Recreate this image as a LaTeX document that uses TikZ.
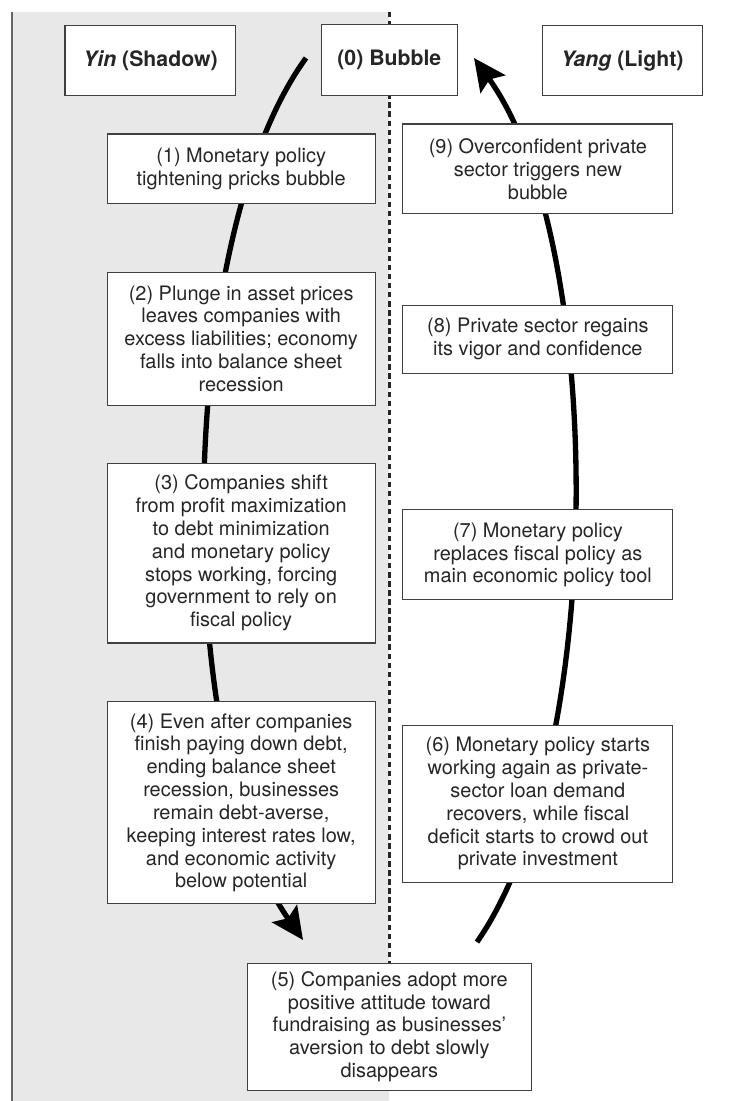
\documentclass[tikz,border=0pt]{standalone}
\usepackage{fontspec}
\setmainfont{TeX Gyre Heros}
\usetikzlibrary{arrows.meta,backgrounds}

\begin{document}
\begin{tikzpicture}[
    stage/.style = {rectangle,
      draw = black!75,
      line width = 0.8pt,
      fill = white,
      text = black!85,
      align = center,
      inner sep = 0pt,
      font = \fontsize{15}{17.2}\selectfont},
    head/.style = {stage,
      minimum height = 1.87cm,
      font = \fontsize{16}{19}\selectfont\bfseries},
    flow/.style = {line width = 4pt,
      -{Stealth[length = 8.5mm, width = 8mm, inset = 1.5mm]}},
    divider/.style = {line width = 1.8pt,
      black!85,
      dash pattern = on 4pt off 2.8pt}
  ]
\useasboundingbox (0,0) rectangle (20,-29.127);

% headings
\node[head, minimum width = 4.52cm] (yin) at (3.98,-1.60) {\textit{Yin} (Shadow)};
\node[head, minimum width = 3.60cm] (s0) at (10.30,-1.59) {(0) Bubble};
\node[head, minimum width = 4.23cm] (yang) at (16.46,-1.60) {\textit{Yang} (Light)};

% yin side
\node[stage,
    minimum width = 7.09cm,
    minimum height = 1.83cm] (s1) at (6.38,-4.46)
    {(1) Monetary policy\\tightening pricks bubble};

\node[stage,
    minimum width = 7.09cm,
    minimum height = 3.52cm] (s2) at (6.38,-8.96)
    {(2) Plunge in asset prices\\leaves companies with\\excess liabilities; economy\\falls into balance sheet\\recession};

\node[stage,
    minimum width = 7.09cm,
    minimum height = 4.76cm] (s3) at (6.38,-14.63)
    {(3) Companies shift\\from profit maximization\\to debt minimization\\and monetary policy\\stops working, forcing\\government to rely on\\fiscal policy};

\node[stage,
    minimum width = 7.09cm,
    minimum height = 5.34cm] (s4) at (6.38,-21.24)
    {(4) Even after companies\\finish paying down debt,\\ending balance sheet\\recession, businesses\\remain debt-averse,\\keeping interest rates low,\\and economic activity\\below potential};

% bottom
\node[stage,
    minimum width = 7.51cm,
    minimum height = 3.36cm] (s5) at (10.30,-27.16)
    {(5) Companies adopt more\\positive attitude toward\\fundraising as businesses'\\aversion to debt slowly\\disappears};

% yang side
\node[stage,
    minimum width = 7.14cm,
    minimum height = 4.15cm] (s6) at (14.23,-21.26)
    {(6) Monetary policy starts\\working again as private-\\sector loan demand\\recovers, while fiscal\\deficit starts to crowd out\\private investment};

\node[stage,
    minimum width = 7.14cm,
    minimum height = 2.38cm] (s7) at (14.23,-14.68)
    {(7) Monetary policy\\replaces fiscal policy as\\main economic policy tool};

\node[stage,
    minimum width = 7.14cm,
    minimum height = 1.80cm] (s8) at (14.23,-8.97)
    {(8) Private sector regains\\its vigor and confidence};

\node[stage,
    minimum width = 7.14cm,
    minimum height = 2.38cm] (s9) at (14.23,-4.47)
    {(9) Overconfident private\\sector triggers new\\bubble};

% ends of the two arcs
\coordinate (top) at (10.30,-0.32);
\coordinate (a1) at (8.095,-1.534);
\coordinate (a2) at (8.016,-24.868);
\coordinate (b1) at (12.619,-24.921);
\coordinate (b2) at (12.54,-1.534);

\begin{scope}[on background layer]
  % shadow half
  \fill[black!9] (0.32,-0.32) rectangle (10.30,-29.127);
  \draw[black!60, line width = 1.2pt] (0.32,-0.32) -- (0.32,-29.127);
  \draw[divider] (top) -- (s5.north);
  % the cycle
  \draw[flow] (a1) .. controls +(-3.51,-4.83) and +(-3.48,4.98) .. (a2);
  \draw[flow] (b1) .. controls +(3.47,4.98) and +(3.50,-4.85) .. (b2);
\end{scope}

\end{tikzpicture}
\end{document}
